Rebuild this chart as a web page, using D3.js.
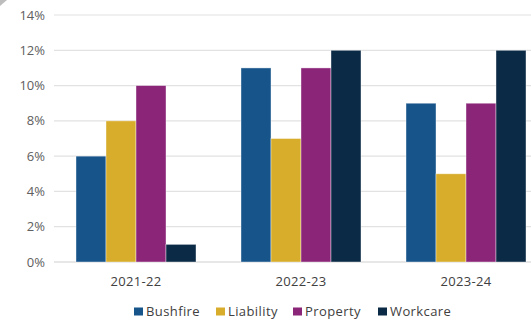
<!DOCTYPE html>
<html>
<head>
<meta charset="utf-8">
<script src="https://cdn.jsdelivr.net/npm/d3@7"></script>
<style>
  body { margin: 0; background: #fff; }
  svg { display: block; font-family: "Open Sans", sans-serif; }
</style>
</head>
<body>
<svg id="chart" width="531" height="320"></svg>
<script>
const years = ['2021-22', '2022-23', '2023-24'];
const seriesNames = ['Bushfire', 'Liability', 'Property', 'Workcare'];
const bushfire = [6, 11, 9];
const liability = [8, 7, 5];
const property = [10, 11, 9];
const workcare = [1, 12, 12];
const yTicks = [0, 2, 4, 6, 8, 10, 12, 14];

const colors = ['#17548a', '#d8ad2c', '#8a2578', '#0b2a45'];
const values = [bushfire, liability, property, workcare];

const data = years.map((year, i) => ({
  year,
  vals: seriesNames.map((name, s) => ({ name, value: values[s][i], color: colors[s] }))
}));

const svg = d3.select('#chart');

const x = d3.scaleBand()
  .domain(years)
  .range([53.5, 548.5]);

const inner = d3.scaleBand()
  .domain(seriesNames)
  .range([22.5, x.bandwidth() - 22.5]);

const y = d3.scaleLinear()
  .domain([0, 14])
  .range([262, 15]);

// gridlines
svg.append('g')
  .selectAll('line')
  .data(yTicks)
  .enter().append('line')
  .attr('x1', 54)
  .attr('x2', 531)
  .attr('y1', d => y(d))
  .attr('y2', d => y(d))
  .attr('stroke', d => d === 0 ? '#d0d0d0' : '#e2e2e2')
  .attr('stroke-width', 1.2);

// y labels
svg.append('g')
  .selectAll('text')
  .data(yTicks)
  .enter().append('text')
  .attr('x', 45)
  .attr('y', d => y(d))
  .attr('dy', '0.35em')
  .attr('text-anchor', 'end')
  .style('fill', '#606060')
  .style('font-size', '13px')
  .text(d => `${d}%`);

// bars
const groups = svg.append('g')
  .selectAll('g')
  .data(data)
  .enter().append('g')
  .attr('transform', d => `translate(${x(d.year)},0)`);

groups.selectAll('rect')
  .data(d => d.vals)
  .enter().append('rect')
  .attr('x', d => inner(d.name))
  .attr('width', inner.bandwidth())
  .attr('y', d => y(d.value))
  .attr('height', d => y(0) - y(d.value))
  .attr('fill', d => d.color)
  .attr('stroke', '#ffffff')
  .attr('stroke-opacity', 0.5)
  .attr('stroke-width', 0.8);

// x labels
svg.append('g')
  .selectAll('text')
  .data(years)
  .enter().append('text')
  .attr('x', d => x(d) + x.bandwidth() / 2)
  .attr('y', 286)
  .attr('text-anchor', 'middle')
  .style('fill', '#404040')
  .style('font-size', '13px')
  .style('letter-spacing', '0.3px')
  .text(d => d);

// legend
const legendX = [134, 216, 293, 378];
const legend = svg.append('g')
  .selectAll('g')
  .data(seriesNames)
  .enter().append('g')
  .attr('transform', (d, i) => `translate(${legendX[i]},307.5)`);

legend.append('rect')
  .attr('width', 9)
  .attr('height', 8)
  .attr('fill', (d, i) => colors[i]);

legend.append('text')
  .attr('x', 12)
  .attr('y', 4)
  .attr('dy', '0.35em')
  .style('fill', '#404040')
  .style('font-size', '13px')
  .style('letter-spacing', '0.4px')
  .text(d => d);

// small grey corner mark top-left
svg.append('path')
  .attr('d', 'M0,0 L7,0 L0,6 Z')
  .attr('fill', '#bdbdbd');
</script>
</body>
</html>
